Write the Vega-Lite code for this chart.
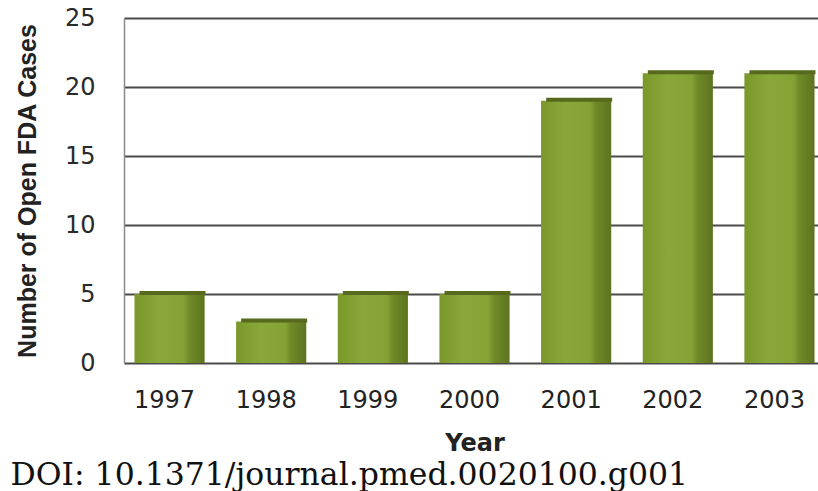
{
  "$schema": "https://vega.github.io/schema/vega-lite/v6.json",
  "width": 701,
  "height": 345,
  "padding": {"left": 10, "top": 6, "right": 0, "bottom": 0},
  "autosize": {"type": "pad"},
  "background": "white",
  "title": {
    "text": "DOI: 10.1371/journal.pmed.0020100.g001",
    "orient": "bottom",
    "anchor": "start",
    "frame": "bounds",
    "font": "DejaVu Serif",
    "fontSize": 31.5,
    "fontWeight": "normal",
    "color": "#111111",
    "offset": 5,
    "dx": -5
  },
  "data": {
    "values": [
      {"year": "1997", "cases": 5},
      {"year": "1998", "cases": 3},
      {"year": "1999", "cases": 5},
      {"year": "2000", "cases": 5},
      {"year": "2001", "cases": 19},
      {"year": "2002", "cases": 21},
      {"year": "2003", "cases": 21}
    ]
  },
  "encoding": {
    "x": {
      "field": "year",
      "type": "ordinal",
      "scale": {"paddingInner": 0.31, "paddingOuter": 0.103},
      "axis": {
        "title": "Year",
        "labelAngle": 0,
        "ticks": false,
        "domain": false,
        "labelPadding": 25,
        "labelOffset": -5,
        "labelFont": "DejaVu Sans",
        "labelFontSize": 24,
        "labelColor": "#222222",
        "titleFont": "DejaVu Sans",
        "titleFontSize": 24,
        "titleFontWeight": "bold",
        "titleColor": "#222222",
        "titlePadding": 19
      }
    },
    "y": {
      "field": "cases",
      "type": "quantitative",
      "scale": {"domain": [0, 25]},
      "axis": {
        "title": "Number of Open FDA Cases",
        "values": [0, 5, 10, 15, 20, 25],
        "grid": true,
        "gridColor": "#4a4a4a",
        "gridWidth": 2,
        "domain": true,
        "domainColor": "#8a8a8a",
        "domainWidth": 1.5,
        "ticks": false,
        "labelPadding": 29,
        "labelFont": "DejaVu Sans",
        "labelFontSize": 24,
        "labelColor": "#2a2a2a",
        "titleFont": "Liberation Sans",
        "titleFontSize": 25,
        "titleFontWeight": "bold",
        "titleColor": "#222222",
        "titlePadding": 24
      }
    }
  },
  "layer": [
    {
      "mark": {
        "type": "bar",
        "color": {
          "gradient": "linear",
          "x1": 0, "y1": 0, "x2": 1, "y2": 0,
          "stops": [
            {"offset": 0, "color": "#7a9729"},
            {"offset": 0.35, "color": "#8aa83a"},
            {"offset": 0.7, "color": "#85a235"},
            {"offset": 0.78, "color": "#6f8a27"},
            {"offset": 1, "color": "#5d7420"}
          ]
        }
      }
    },
    {
      "mark": {"type": "tick", "color": "#56691d", "thickness": 4, "size": 66, "xOffset": 3, "yOffset": -1, "opacity": 1}
    }
  ],
  "config": {"view": {"stroke": null}}
}
